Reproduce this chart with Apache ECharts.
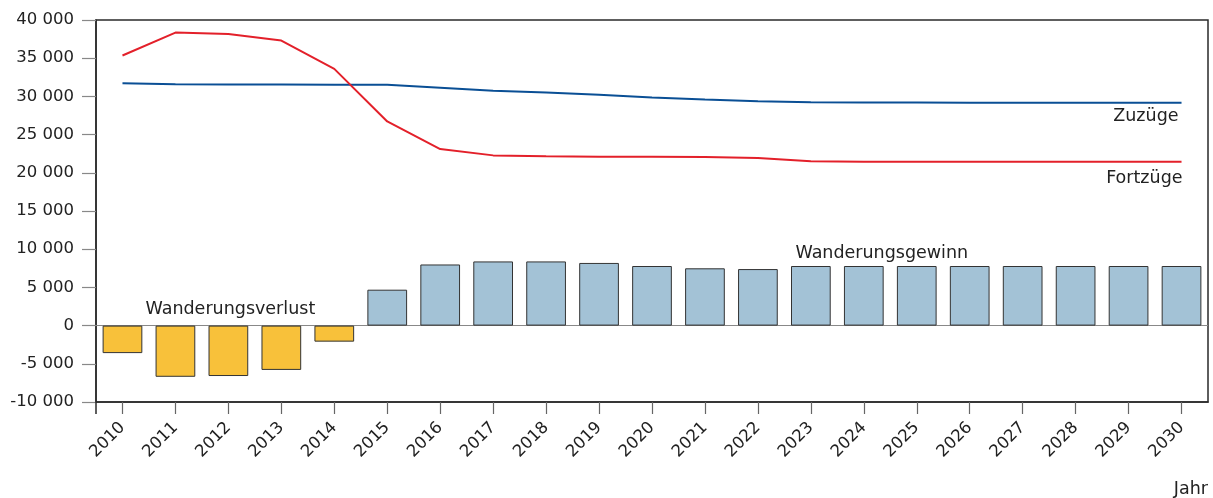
<!DOCTYPE html>
<html>
<head>
<meta charset="utf-8">
<script src="https://cdn.jsdelivr.net/npm/echarts@6/dist/echarts.min.js"></script>
<style>
html,body{margin:0;padding:0;background:#fff;}
#chart{width:1213px;height:498px;}
</style>
</head>
<body>
<div id="chart"></div>
<script>
const years = ['2010','2011','2012','2013','2014','2015','2016','2017','2018','2019','2020','2021','2022','2023','2024','2025','2026','2027','2028','2029','2030'];
const zuzuege = [31730,31600,31560,31560,31540,31520,31120,30730,30520,30210,29870,29600,29380,29250,29200,29190,29180,29180,29170,29160,29160];
const fortzuege = [35350,38350,38170,37310,33600,26720,23100,22280,22150,22100,22100,22070,21930,21500,21450,21450,21450,21450,21450,21450,21450];
const saldo = [-3600,-6700,-6600,-5800,-2100,4700,8000,8400,8400,8200,7800,7500,7400,7800,7800,7800,7800,7800,7800,7800,7800];
const yTicks = [-10000,-5000,0,5000,10000,15000,20000,25000,30000,35000,40000];

const FONT = '"DejaVu Sans", "Liberation Sans", Arial, sans-serif';
const FS = 16.5;
const FS_ANN = 17.5;
function fmt(v){
  const s = String(Math.abs(v)).replace(/\B(?=(\d{3})+(?!\d))/g, ' ');
  return (v < 0 ? '-' : '') + s;
}
const chart = echarts.init(document.getElementById('chart'), null, {renderer:'canvas'});
const lastIdx = years.length - 1;
const option = {
  animation:false,
  backgroundColor:'#fff',
  textStyle:{fontFamily:FONT},
  grid:{left:96,right:5,top:20,bottom:96,show:true,borderColor:'#2a2a2a',borderWidth:1.5,backgroundColor:'transparent'},
  xAxis:[{
    type:'category',
    data:years,
    boundaryGap:true,
    name:'Jahr',
    nameLocation:'end',
    nameGap:0,
    nameTextStyle:{fontFamily:FONT,fontSize:FS_ANN,color:'#222',align:'right',verticalAlign:'top',padding:[78,0,0,0]},
    axisLine:{show:true,onZero:false,lineStyle:{color:'#2a2a2a',width:1.5}},
    axisTick:{show:true,alignWithLabel:true,length:12,lineStyle:{color:'#666',width:1.2}},
    axisLabel:{rotate:45,fontFamily:FONT,fontSize:FS,color:'#222',margin:23,interval:0},
    splitLine:{show:false}
  },{
    type:'category',
    data:years,
    boundaryGap:false,
    position:'bottom',
    axisLine:{show:false,onZero:false},
    axisTick:{show:true,length:12,interval:function(i){return i===0;},lineStyle:{color:'#2a2a2a',width:1.5}},
    axisLabel:{show:false},
    splitLine:{show:false}
  }],
  yAxis:{
    type:'value',
    min:yTicks[0],
    max:yTicks[yTicks.length-1],
    interval:5000,
    axisLine:{show:true,lineStyle:{color:'#2a2a2a',width:1.5}},
    axisTick:{show:true,length:14,lineStyle:{color:'#888',width:1.2}},
    axisLabel:{fontFamily:FONT,fontSize:FS,color:'#222',margin:22,formatter:fmt},
    splitLine:{show:false}
  },
  series:[
    {
      name:'Saldo',
      type:'bar',
      barCategoryGap:'25%',
      data:saldo.map(v => ({value:v, itemStyle:{color: v < 0 ? '#F8C13A' : '#A3C2D6'}})),
      itemStyle:{borderColor:'#333',borderWidth:1},
      z:2,
      markLine:{
        silent:true,
        symbol:'none',
        label:{show:false},
        lineStyle:{color:'#888',width:1.2,type:'solid'},
        data:[{yAxis:0}],
        z:1
      },
      markPoint:{
        symbol:'circle',
        symbolSize:0,
        label:{show:true,fontFamily:FONT,fontSize:FS_ANN,color:'#222',position:'inside'},
        data:[
          {coord:['2012',2100],value:'Wanderungsverlust',label:{formatter:'Wanderungsverlust',offset:[2,0]}},
          {coord:['2024',9450],value:'Wanderungsgewinn',label:{formatter:'Wanderungsgewinn',offset:[18,0]}}
        ]
      }
    },
    {
      name:'Zuzüge',
      type:'line',
      data:zuzuege.map((v,i) => i === lastIdx ? {value:v,label:{show:true}} : v),
      symbol:'circle',
      symbolSize:0,
      showSymbol:true,
      lineStyle:{color:'#0A4F95',width:2},
      itemStyle:{color:'#0A4F95'},
      label:{show:false,formatter:'Zuzüge',position:'bottom',align:'right',distance:5,offset:[-3,0],fontFamily:FONT,fontSize:FS_ANN,color:'#222'},
      z:3
    },
    {
      name:'Fortzüge',
      type:'line',
      data:fortzuege.map((v,i) => i === lastIdx ? {value:v,label:{show:true}} : v),
      symbol:'circle',
      symbolSize:0,
      showSymbol:true,
      lineStyle:{color:'#E3202A',width:2},
      itemStyle:{color:'#E3202A'},
      label:{show:false,formatter:'Fortzüge',position:'bottom',align:'right',distance:8,offset:[1,0],fontFamily:FONT,fontSize:FS_ANN,color:'#222'},
      z:3
    }
  ]
};
chart.setOption(option);
</script>
</body>
</html>
